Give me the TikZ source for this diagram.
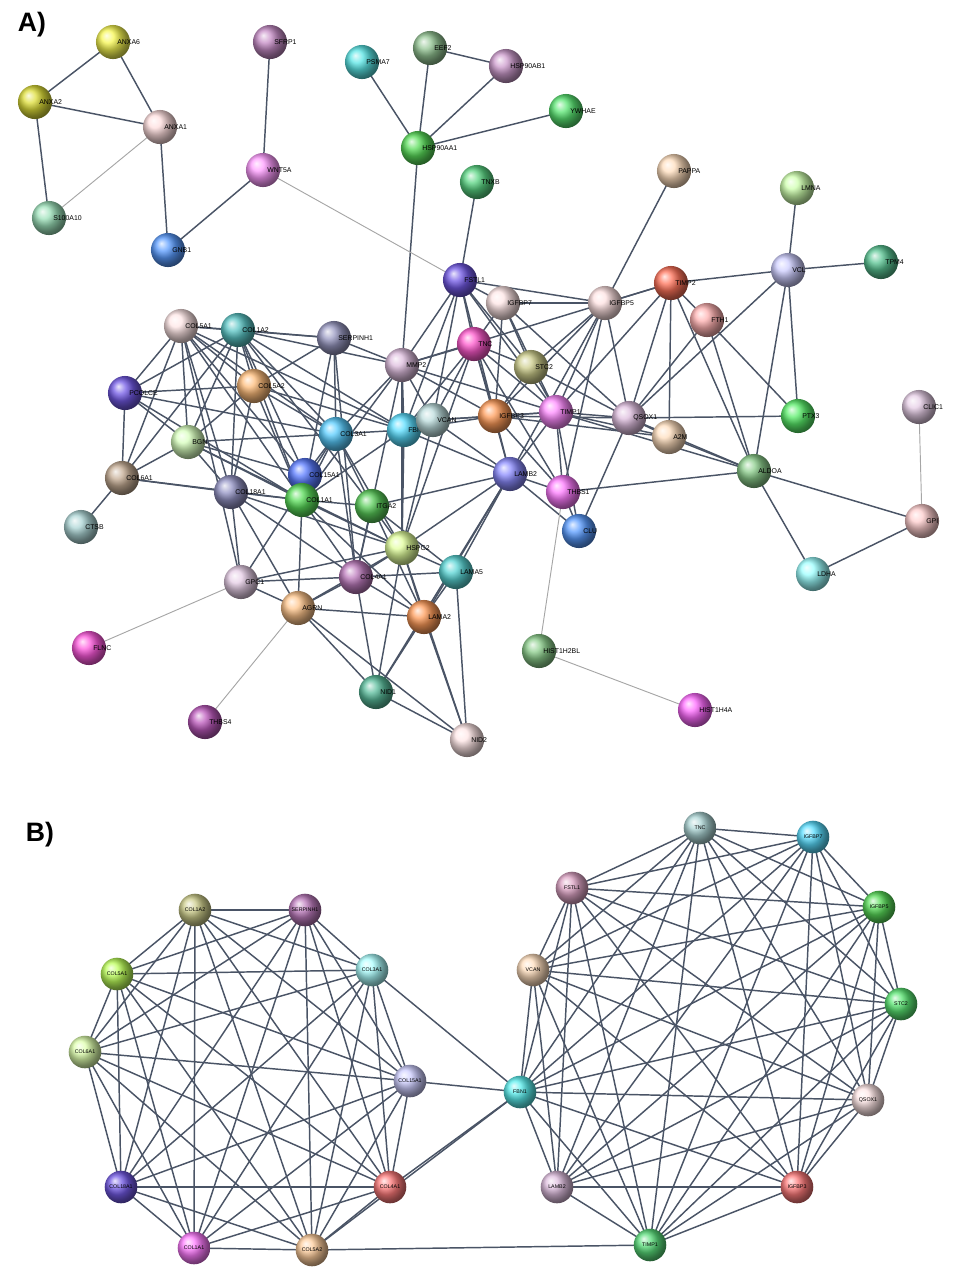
\documentclass[tikz,border=0pt]{standalone}
\usepackage{fontspec}
\setmainfont{Liberation Sans}
\usetikzlibrary{backgrounds}
\definecolor{edgec}{HTML}{4A5466}
\begin{document}
\begin{tikzpicture}[x=0.0264cm,y=-0.0264cm,
 ball/.style={circle,minimum size=0.9cm,inner sep=0pt,draw=none},
 bballs/.style={circle,minimum size=0.86cm,inner sep=0pt,draw=none,font=\fontsize{4}{5}\selectfont},
 lab/.style={anchor=west,inner sep=0pt,font=\fontsize{5.2}{6}\selectfont},
 edge/.style={draw=edgec,line width=1.1pt},
 thin/.style={draw=gray!70,line width=0.7pt}]
\useasboundingbox (0,0) rectangle (966,1285);
\node[font=\bfseries\fontsize{20}{22}\selectfont] (tA) at (32,25) {A)};
\node[font=\bfseries\fontsize{20}{22}\selectfont] (tB) at (40,835) {B)};
\foreach \n/\x/\y/\c in {
ANXA6/113/42/yellow!90!olive, ANXA2/35/102/yellow!60!olive, ANXA1/160/127/pink!80, S100A10/49/218/green!40!teal!60,
GNB1/168/250/blue!60!cyan, SFRP1/270/42/violet!70, WNT5A/263/170/magenta!60, PSMA7/362/62/cyan!70!teal,
EEF2/430/48/green!30!gray, HSP90AB1/506/66/violet!60, YWHAE/566/111/green!70!teal, HSP90AA1/418/148/green!80!black,
TNXB/477/182/green!50!teal, PAPPA/674/171/orange!40, LMNA/797/188/yellow!40!green!50, TPM4/881/262/teal!70!green,
VCL/788/270/blue!30, FSTL1/460/280/blue!70!violet, IGFBP7/503/303/pink!60, IGFBP5/605/303/pink!70,
TIMP2/671/283/red!70!orange, FTH1/707/320/pink!70!red, COL5A1/181/326/pink!60, COL1A2/238/330/teal!70!cyan,
SERPINH1/334/338/blue!25!gray, MMP2/402/365/violet!40, TNC/474/344/magenta!70!red, STC2/531/367/yellow!40!gray,
PCOLCE/125/393/blue!70!violet, COL5A2/254/386/orange!80, BGN/188/442/yellow!40!green!40, COL3A1/336/434/cyan!70!blue,
FBN1/404/430/cyan!80!blue, VCAN/433/420/teal!40, IGFBP3/495/416/orange!80!red, TIMP1/556/412/magenta!70,
QSOX1/629/418/violet!40, A2M/669/437/orange!40, PTX3/798/416/green!80!teal, CLIC1/919/407/violet!30,
COL6A1/122/478/orange!30!gray, COL18A1/231/492/blue!30!gray, COL15A1/305/475/blue!80!cyan, COL1A1/302/500/green!80!black,
ITGA2/372/506/green!70!black, LAMB2/510/474/blue!70, THBS1/563/492/magenta!80, ALDOA/754/471/green!40!gray,
CTSB/81/527/teal!50, CLU/579/531/cyan!40!blue, GPI/922/521/red!30, HSPG2/402/548/green!30!yellow!60,
LAMA5/456/572/teal!50!cyan, COL4A1/356/577/violet!80, LDHA/813/574/cyan!60, GPC1/241/582/violet!30,
AGRN/298/608/orange!70, LAMA2/424/617/orange!80!red, FLNC/89/648/magenta!80!red, HIST1H2BL/539/651/green!40!gray,
NID1/376/692/teal!80!green, THBS4/205/722/violet!80!magenta, HIST1H4A/695/710/magenta!90, NID2/467/740/pink!60}
{\colorlet{tmpc}{\c}
 \node[ball,ball color=tmpc!65!white] (\n) at (\x,\y) {};
 \node[lab] (\n-l) at (\x+4,\y) {\n};}
\begin{pgfonlayer}{background}
\foreach \a/\b in {ANXA6/ANXA2,ANXA6/ANXA1,ANXA2/ANXA1,ANXA2/S100A10,ANXA1/GNB1,GNB1/WNT5A,WNT5A/SFRP1,
PSMA7/HSP90AA1,EEF2/HSP90AA1,EEF2/HSP90AB1,HSP90AB1/HSP90AA1,YWHAE/HSP90AA1,HSP90AA1/MMP2,TNXB/FSTL1,PAPPA/IGFBP5,
LMNA/VCL,VCL/TPM4,VCL/TIMP2,VCL/PTX3,VCL/QSOX1,VCL/ALDOA,
COL5A1/COL1A2,COL5A1/COL5A2,COL5A1/PCOLCE,COL5A1/BGN,COL5A1/COL3A1,COL5A1/COL1A1,COL5A1/COL6A1,COL5A1/COL18A1,COL5A1/COL15A1,COL5A1/SERPINH1,COL5A1/FBN1,COL5A1/GPC1,
COL1A2/COL5A2,COL1A2/SERPINH1,COL1A2/COL3A1,COL1A2/PCOLCE,COL1A2/BGN,COL1A2/COL1A1,COL1A2/MMP2,COL1A2/FBN1,COL1A2/COL15A1,COL1A2/COL18A1,COL1A2/ITGA2,COL1A2/COL6A1,
SERPINH1/COL3A1,SERPINH1/COL1A1,SERPINH1/MMP2,SERPINH1/COL5A2,SERPINH1/COL4A1,
MMP2/TIMP2,MMP2/TIMP1,MMP2/TNC,MMP2/FBN1,MMP2/COL4A1,MMP2/COL1A1,MMP2/COL3A1,MMP2/IGFBP3,MMP2/VCAN,MMP2/HSPG2,MMP2/FSTL1,
FSTL1/TNC,FSTL1/IGFBP7,FSTL1/VCAN,FSTL1/FBN1,FSTL1/IGFBP5,FSTL1/IGFBP3,FSTL1/STC2,FSTL1/TIMP1,
IGFBP7/IGFBP5,IGFBP7/TNC,IGFBP7/IGFBP3,IGFBP7/STC2,IGFBP7/TIMP1,IGFBP7/QSOX1,
IGFBP5/TIMP1,IGFBP5/IGFBP3,IGFBP5/QSOX1,IGFBP5/STC2,IGFBP5/TIMP2,IGFBP5/LAMB2,IGFBP5/THBS1,
TIMP2/QSOX1,TIMP2/FTH1,TIMP2/A2M,TIMP2/TIMP1,TIMP2/ALDOA,FTH1/ALDOA,FTH1/QSOX1,FTH1/PTX3,
TNC/STC2,TNC/VCAN,TNC/IGFBP3,TNC/TIMP1,TNC/FBN1,TNC/LAMB2,TNC/THBS1,TNC/HSPG2,STC2/IGFBP3,STC2/TIMP1,STC2/QSOX1,
PCOLCE/BGN,PCOLCE/COL3A1,PCOLCE/COL1A1,PCOLCE/COL5A2,PCOLCE/COL6A1,
COL5A2/BGN,COL5A2/COL3A1,COL5A2/COL1A1,COL5A2/COL18A1,COL5A2/FBN1,
BGN/COL6A1,BGN/COL18A1,BGN/COL1A1,BGN/COL3A1,BGN/HSPG2,BGN/COL15A1,
COL3A1/FBN1,COL3A1/COL1A1,COL3A1/COL15A1,COL3A1/ITGA2,COL3A1/COL4A1,COL3A1/HSPG2,COL3A1/GPC1,
FBN1/VCAN,FBN1/COL1A1,FBN1/LAMB2,FBN1/IGFBP3,FBN1/HSPG2,VCAN/IGFBP3,VCAN/TIMP1,VCAN/HSPG2,VCAN/LAMB2,
IGFBP3/TIMP1,IGFBP3/LAMB2,IGFBP3/QSOX1,IGFBP3/A2M,IGFBP3/THBS1,
TIMP1/QSOX1,TIMP1/A2M,TIMP1/THBS1,TIMP1/CLU,TIMP1/LAMB2,TIMP1/ALDOA,
QSOX1/A2M,QSOX1/PTX3,QSOX1/ALDOA,QSOX1/CLU,A2M/ALDOA,ALDOA/GPI,ALDOA/LDHA,ALDOA/THBS1,GPI/LDHA,
COL6A1/COL18A1,COL6A1/CTSB,COL6A1/COL1A1,COL18A1/COL1A1,COL18A1/GPC1,COL18A1/AGRN,COL18A1/HSPG2,COL18A1/COL4A1,
COL1A1/ITGA2,COL1A1/COL4A1,COL1A1/HSPG2,COL1A1/AGRN,COL1A1/LAMA2,
ITGA2/HSPG2,ITGA2/COL4A1,ITGA2/LAMB2,ITGA2/LAMA5,ITGA2/LAMA2,
LAMB2/HSPG2,LAMB2/LAMA5,LAMB2/LAMA2,LAMB2/NID1,LAMB2/THBS1,LAMB2/CLU,THBS1/CLU,
HSPG2/LAMA5,HSPG2/COL4A1,HSPG2/AGRN,HSPG2/LAMA2,HSPG2/NID1,HSPG2/NID2,HSPG2/GPC1,
LAMA5/COL4A1,LAMA5/LAMA2,LAMA5/NID2,COL4A1/AGRN,COL4A1/LAMA2,COL4A1/NID1,COL4A1/GPC1,
GPC1/AGRN,AGRN/NID1,AGRN/NID2,AGRN/LAMA2,LAMA2/NID1,LAMA2/NID2,NID1/NID2}
{\draw[edge] (\a.center) -- (\b.center);}
\foreach \a/\b in {ANXA1/S100A10,WNT5A/FSTL1,GPI/CLIC1,THBS1/HIST1H2BL,HIST1H2BL/HIST1H4A,GPC1/FLNC,AGRN/THBS4}
{\draw[thin] (\a.center) -- (\b.center);}
\end{pgfonlayer}
% Panel B
\foreach \n/\x/\y/\c/\t in {
bCOL1A2/195/910/yellow!40!gray/COL1A2, bSERPINH1/305/910/violet!80/SERPINH1, bCOL3A1/372/970/cyan!50/COL3A1,
bCOL5A1/117/974/yellow!60!green/COL5A1, bCOL15A1/410/1081/blue!30/COL15A1, bCOL6A1/85/1052/green!40!yellow!50/COL6A1,
bCOL4A1/390/1187/red!80/COL4A1, bCOL18A1/121/1187/blue!70!violet/COL18A1, bCOL1A1/194/1248/magenta!80/COL1A1,
bCOL5A2/312/1250/orange!60/COL5A2,
bTNC/700/828/teal!50/TNC, bIGFBP7/813/837/cyan!80!blue/IGFBP7, bIGFBP5/879/907/green!80!black/IGFBP5,
bSTC2/901/1004/green!70!teal/STC2, bQSOX1/868/1100/pink!60/QSOX1, bIGFBP3/797/1187/red!80/IGFBP3,
bTIMP1/650/1245/green!60!teal/TIMP1, bLAMB2/557/1187/violet!40/LAMB2, bFBN1/520/1092/cyan!80!teal/FBN1,
bVCAN/533/970/orange!40/VCAN, bFSTL1/572/888/pink!60!violet/FSTL1}
{\colorlet{tmpc}{\c}
 \node[bballs,ball color=tmpc!65!white] (\n) at (\x,\y) {\t};}
\begin{pgfonlayer}{background}
\def\L{bCOL1A2,bSERPINH1,bCOL3A1,bCOL15A1,bCOL4A1,bCOL5A2,bCOL1A1,bCOL18A1,bCOL6A1,bCOL5A1}
\foreach \a [count=\i] in \L {\foreach \b [count=\j] in \L {\ifnum\j>\i \draw[edge] (\a.center) -- (\b.center);\fi}}
\def\R{bTNC,bIGFBP7,bIGFBP5,bSTC2,bQSOX1,bIGFBP3,bTIMP1,bLAMB2,bFBN1,bVCAN,bFSTL1}
\foreach \a [count=\i] in \R {\foreach \b [count=\j] in \R {\ifnum\j>\i \draw[edge] (\a.center) -- (\b.center);\fi}}
\foreach \a/\b in {bFBN1/bCOL3A1,bFBN1/bCOL15A1,bFBN1/bCOL4A1,bFBN1/bCOL5A2,bCOL5A2/bTIMP1}
{\draw[edge] (\a.center) -- (\b.center);}
\end{pgfonlayer}
\end{tikzpicture}
\end{document}
